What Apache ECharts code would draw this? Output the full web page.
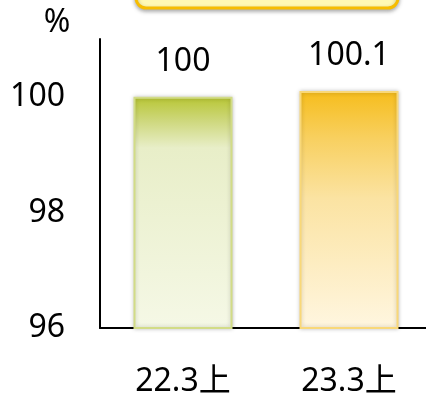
<!DOCTYPE html>
<html>
<head>
<meta charset="utf-8">
<script src="https://cdn.jsdelivr.net/npm/echarts@6/dist/echarts.min.js"></script>
<style>
  html, body { margin: 0; padding: 0; background: #fff; }
  #chart { width: 426px; height: 395px; }
</style>
</head>
<body>
<div id="chart"></div>
<script>
// Period labels and index values (%)
const categories = ['22.3上', '23.3上'];
const values = [100, 100.1];
const yTicks = [96, 98, 100];

const fontFamily = '"Noto Sans", "Noto Sans CJK JP", sans-serif';
const fontSize = 32;

const barStyles = [
  {
    color: {
      type: 'linear', x: 0, y: 0, x2: 0, y2: 1,
      colorStops: [
        { offset: 0, color: '#b8c634' },
        { offset: 0.1, color: '#cdd77a' },
        { offset: 0.22, color: '#e8eec8' },
        { offset: 1, color: '#f5f8e6' }
      ]
    },
    borderColor: '#d2dc86'
  },
  {
    color: {
      type: 'linear', x: 0, y: 0, x2: 0, y2: 1,
      colorStops: [
        { offset: 0, color: '#f6bd1c' },
        { offset: 0.2, color: '#f8d060' },
        { offset: 0.45, color: '#fbe3a2' },
        { offset: 1, color: '#fff6e0' }
      ]
    },
    borderColor: '#f9d878'
  }
];

const chart = echarts.init(document.getElementById('chart'), null, { renderer: 'canvas' });

chart.setOption({
  animation: false,
  grid: {
    left: 100, top: 39, right: -6, bottom: 67,
    containLabel: false, outerBoundsMode: 'none'
  },
  graphic: [
    {
      type: 'rect',
      shape: { x: 136, y: -30, width: 262, height: 38, r: 10 },
      style: {
        fill: '#fff9b4', stroke: '#f7bd00', lineWidth: 3,
        shadowBlur: 4, shadowOffsetY: 2, shadowColor: 'rgba(0,0,0,0.3)'
      }
    },
    {
      type: 'text',
      x: 57, y: 23,
      style: {
        text: '%', font: fontSize + 'px ' + fontFamily, fill: '#000',
        align: 'center', verticalAlign: 'middle'
      }
    }
  ],
  xAxis: {
    type: 'category',
    data: categories,
    axisLine: { lineStyle: { color: '#000', width: 2 } },
    axisTick: { show: false },
    axisLabel: { color: '#000', fontSize: fontSize, fontFamily: fontFamily, margin: 38 }
  },
  yAxis: {
    type: 'value',
    min: yTicks[0],
    max: 101,
    interval: 2,
    axisLine: { show: true, lineStyle: { color: '#000', width: 2 } },
    axisTick: { show: false },
    splitLine: { show: false },
    axisLabel: {
      color: '#000', fontSize: fontSize, fontFamily: fontFamily, margin: 35,
      padding: [4, 0, 0, 0],
      formatter: v => (yTicks.includes(v) ? String(v) : '')
    }
  },
  series: [{
    type: 'bar',
    barWidth: 99,
    data: values.map((v, i) => ({
      value: v,
      itemStyle: {
        color: barStyles[i].color,
        borderColor: barStyles[i].borderColor,
        borderWidth: 2,
        shadowBlur: 4,
        shadowColor: 'rgba(0,0,0,0.22)'
      }
    })),
    label: {
      show: true,
      position: 'top',
      distance: 19,
      color: '#000',
      fontSize: fontSize,
      fontFamily: fontFamily
    }
  }]
});
</script>
</body>
</html>
